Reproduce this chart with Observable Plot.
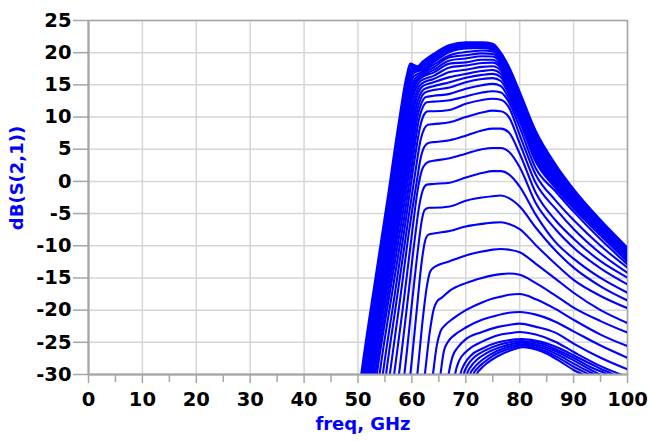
<!DOCTYPE html>
<html>
<head>
<meta charset="utf-8">
<script src="https://cdn.jsdelivr.net/npm/d3@7"></script>
<script src="https://cdn.jsdelivr.net/npm/@observablehq/plot@0.6"></script>
<style>
  html, body { margin: 0; padding: 0; background: #fff; }
  #chart { width: 649px; height: 441px; }
</style>
</head>
<body>
<div id="chart"></div>
<script>
// Axis ticks
const xTicks = [0, 10, 20, 30, 40, 50, 60, 70, 80, 90, 100];
const xMinor = [5, 15, 25, 35, 45, 55, 65, 75, 85, 95];
const yTicks = [-30, -25, -20, -15, -10, -5, 0, 5, 10, 15, 20, 25];
const xTitle = "freq, GHz";
const yTitle = "dB(S(2,1))";

// Curves: [freq GHz, dB(S21)], top (c01) to bottom (c36)
const c01 = [[50.0,-34],[50.6,-30],[53,-16.3],[55.5,-2.6],[57.5,8.8],[59.0,16.3],[59.7,18.3],[61.0,17.9],[62,18.6],[64,19.8],[67,21.2],[70,21.6],[73,21.6],[75,21.4],[76.5,20.0],[78,17.8],[80,13.9],[83,7.8],[86.6,2.7],[90,-1.2],[95,-6.0],[100,-10.3]];
const c02 = [[50.15,-34],[50.75,-30],[53.15,-16.4],[55.65,-2.8],[57.65,8.6],[59.1,16.0],[59.8,17.95],[61.0,17.75],[62,18.4],[64,19.6],[67,21.0],[70,21.45],[73,21.45],[75,21.25],[76.5,19.85],[78,17.6],[80,13.6],[83,7.5],[86.6,2.45],[90,-1.4],[95,-6.16],[100,-10.45]];
const c03 = [[50.3,-34],[50.9,-30],[53.3,-16.5],[55.8,-3.0],[57.8,8.4],[59.2,15.7],[59.9,17.6],[61.0,17.6],[62,18.2],[64,19.4],[67,20.8],[70,21.3],[73,21.3],[75,21.1],[76.5,19.7],[78,17.4],[80,13.3],[83,7.2],[86.6,2.2],[90,-1.6],[95,-6.32],[100,-10.6]];
const c04 = [[50.45,-34],[51.05,-30],[53.45,-16.6],[55.95,-3.2],[57.95,8.2],[59.3,15.4],[60.0,17.3],[61.0,17.45],[62,17.9],[64,19.1],[67,20.6],[70,21.1],[73,21.15],[75,20.9],[76.5,19.5],[78,17.1],[80,13.0],[83,6.85],[86.6,1.95],[90,-1.8],[95,-6.48],[100,-10.74]];
const c05 = [[50.6,-34],[51.2,-30],[53.6,-16.7],[56.1,-3.4],[58.1,8.0],[59.4,15.1],[60.1,17.0],[61.0,17.3],[62,17.6],[64,18.8],[67,20.35],[70,20.9],[73,20.95],[75,20.7],[76.5,19.3],[78,16.8],[80,12.7],[83,6.5],[86.6,1.7],[90,-2.0],[95,-6.64],[100,-10.9]];
const c06 = [[50.75,-34],[51.35,-30],[53.75,-16.8],[56.25,-3.6],[58.25,7.8],[59.5,14.8],[60.2,16.7],[61.0,17.1],[62,17.3],[64,18.5],[67,20.1],[70,20.65],[73,20.75],[75,20.5],[76.5,19.1],[78,16.5],[80,12.4],[83,6.2],[86.6,1.45],[90,-2.2],[95,-6.8],[100,-11.05]];
const c07 = [[50.9,-34],[51.5,-30],[53.9,-16.9],[56.4,-3.8],[58.4,7.6],[59.6,14.4],[60.3,16.3],[61.6,16.9],[64,18.1],[67,19.6],[70,20.1],[73,20.35],[75,20.2],[76.5,18.9],[78,16.2],[80,12.1],[83,5.9],[86.6,1.2],[90,-2.4],[95,-6.96],[100,-11.2]];
const c08 = [[51.05,-34],[51.65,-30],[54.05,-17.0],[56.55,-4.0],[58.55,7.3],[59.8,14.0],[60.5,15.9],[61.6,16.6],[64,17.7],[67,19.3],[70,19.6],[73,19.9],[75,19.8],[76.5,18.6],[78,15.9],[80,11.8],[83,5.55],[86.6,0.95],[90,-2.6],[95,-7.12],[100,-11.35]];
const c09 = [[51.2,-34],[51.8,-30],[54.2,-17.1],[56.7,-4.2],[58.7,7.0],[59.9,13.6],[60.6,15.5],[61.6,16.3],[64,17.3],[67,18.8],[70,19.1],[73,19.45],[75,19.4],[76.5,18.3],[78,15.6],[80,11.5],[83,5.25],[86.6,0.7],[90,-2.8],[95,-7.28],[100,-11.5]];
const c10 = [[51.4,-34],[52.0,-30],[54.4,-17.2],[56.9,-4.4],[58.9,6.7],[60.0,13.2],[60.7,15.1],[61.6,16.0],[64,16.9],[67,18.3],[70,18.5],[73,18.9],[75,18.9],[76.5,17.9],[78,15.3],[80,11.2],[83,4.9],[86.6,0.45],[90,-3.0],[95,-7.44],[100,-11.65]];
const c11 = [[51.6,-34],[52.2,-30],[54.6,-17.3],[57.1,-4.6],[59.1,6.4],[60.1,12.7],[60.8,14.6],[61.6,15.6],[64,16.4],[67,17.7],[70,18.0],[73,18.4],[75,18.45],[76.5,17.6],[78,15.0],[80,10.9],[83,4.6],[86.6,0.2],[90,-3.2],[95,-7.6],[100,-11.8]];
const c12 = [[51.8,-34],[52.4,-30],[54.8,-17.4],[57.3,-4.8],[59.3,6.1],[60.3,12.2],[61.0,14.2],[61.8,15.2],[64,15.9],[67,17.0],[70,17.35],[73,17.8],[75,17.9],[76.5,17.2],[78,14.7],[80,10.6],[83,4.3],[86.6,-0.05],[90,-3.4],[95,-7.76],[100,-11.95]];
const c13 = [[52.05,-34],[52.65,-30],[55.0,-17.5],[57.5,-5.0],[59.5,5.8],[60.5,11.8],[61.2,13.8],[62,14.8],[64,15.4],[67,16.2],[70,16.7],[73,17.15],[75,17.3],[76.5,16.7],[78,14.4],[80,10.3],[83,3.95],[86.6,-0.3],[90,-3.6],[95,-7.92],[100,-12.1]];
const c14 = [[52.3,-34],[52.9,-30],[55.2,-17.6],[57.7,-5.2],[59.7,5.5],[60.7,11.3],[61.4,13.3],[62.2,14.3],[64,14.8],[67,15.4],[70,16.1],[73,16.55],[75,16.7],[76.5,16.2],[78,14.0],[80,9.95],[83,3.65],[86.6,-0.55],[90,-3.8],[95,-8.08],[100,-12.2]];
const c15 = [[52.6,-34],[53.2,-30],[55.5,-17.7],[57.9,-5.4],[59.9,5.2],[60.9,10.8],[61.6,12.8],[62.4,13.8],[64,14.2],[67,14.6],[70,15.4],[73,15.9],[75,16.05],[76.5,15.6],[78,13.5],[80,9.6],[83,3.3],[86.6,-0.8],[90,-4.0],[95,-8.24],[100,-12.35]];
const c16 = [[52.9,-34],[53.5,-30],[55.8,-17.8],[58.2,-5.6],[60.1,4.9],[61.1,10.3],[61.8,12.2],[62.6,13.1],[64,13.3],[67,13.6],[70,14.4],[73,14.95],[75,15.15],[76.5,14.8],[78,12.9],[80,9.3],[83,3.0],[86.6,-1.0],[90,-4.2],[95,-8.4],[100,-12.5]];
const c17 = [[53.4,-34],[54.0,-30],[56.2,-18.0],[58.5,-6.0],[60.3,4.3],[61.3,9.6],[62.0,11.5],[62.8,12.3],[64,12.4],[67,12.6],[70,13.2],[73,13.8],[75,14.0],[76.5,13.8],[78,12.3],[80,8.4],[83,2.0],[86.6,-1.5],[90,-4.7],[95,-9.0],[100,-12.9]];
const c18 = [[54.0,-34],[54.6,-30],[56.7,-18.2],[58.8,-6.4],[60.5,3.4],[61.5,8.4],[62.2,10.3],[63,10.9],[64,10.9],[67,11.1],[70,12.05],[73,12.65],[75,12.85],[76.5,12.7],[78,11.5],[80,7.2],[83,1.0],[86.6,-2.9],[90,-6.0],[95,-10.0],[100,-13.4]];
const c19 = [[54.6,-34],[55.2,-30],[57.2,-18.3],[59.2,-6.6],[60.7,1.8],[61.6,6.4],[62.3,8.2],[63,8.8],[64,8.9],[67,9.2],[70,10.0],[73,10.7],[75,11.0],[76.5,10.9],[78,10.0],[80,5.9],[83,-0.3],[86.6,-4.2],[90,-7.4],[95,-11.2],[100,-14.2]];
const c20 = [[55.3,-34],[55.9,-30],[57.8,-18.4],[59.6,-7.0],[60.9,0.0],[61.7,3.9],[62.4,5.5],[63.2,6.0],[64,6.1],[67,6.4],[70,7.1],[73,7.9],[75,8.2],[76.5,8.2],[78,7.6],[80,4.3],[83,-1.8],[86.6,-6.0],[90,-8.9],[95,-12.4],[100,-14.95]];
const c21 = [[56.1,-34],[56.7,-30],[58.5,-18.5],[60.1,-7.5],[61.1,-1.2],[61.8,1.6],[62.5,2.7],[63.3,3.1],[64,3.2],[67,3.6],[70,4.3],[73,5.0],[75,5.2],[76.5,5.2],[78,4.6],[80,2.2],[83,-3.4],[86.6,-7.4],[90,-10.3],[95,-13.5],[100,-16.0]];
const c22 = [[57.0,-34],[57.6,-30],[59.2,-18.6],[60.6,-8.5],[61.4,-3.6],[62.1,-1.2],[62.8,-0.5],[64,-0.4],[67,-0.2],[70,0.6],[73,1.3],[75,1.6],[76.5,1.6],[78,1.1],[80,-0.8],[83,-5.2],[86.6,-9.4],[90,-12.0],[95,-15.0],[100,-17.3]];
const c23 = [[58.0,-34],[58.6,-30],[60.0,-19.0],[61.2,-10.0],[61.8,-6.2],[62.4,-4.4],[63.2,-4.1],[64,-4.1],[67,-3.9],[70,-3.0],[73,-2.5],[75,-2.3],[76.5,-2.2],[78,-2.6],[80,-3.9],[83,-7.2],[86.6,-10.7],[90,-13.4],[95,-16.3],[100,-18.5]];
const c24 = [[59.1,-34],[59.7,-30],[60.9,-20.0],[61.8,-12.6],[62.4,-9.4],[63.0,-8.3],[64,-8.1],[67,-7.7],[70,-7.0],[73,-6.6],[75,-6.4],[76.5,-6.35],[78,-6.6],[80,-7.4],[83,-9.9],[86.6,-12.8],[90,-15.3],[95,-17.8],[100,-19.7]];
const c25 = [[60.4,-34],[61.0,-30],[62.0,-21.5],[62.8,-16.2],[63.4,-14.0],[64.2,-13.3],[67,-12.4],[70,-11.5],[73,-10.9],[75,-10.6],[76.5,-10.5],[78,-10.6],[80,-11.0],[83,-12.8],[86.6,-15.1],[90,-17.3],[95,-20.0],[100,-22.0]];
const c26 = [[61.8,-34],[62.4,-30],[63.3,-23.5],[64.0,-20.0],[64.7,-18.6],[65.5,-18.1],[67,-17.0],[70,-15.8],[73,-15.0],[75,-14.6],[76.5,-14.4],[78,-14.3],[80,-14.5],[83,-15.8],[86.6,-17.7],[90,-19.6],[95,-21.7],[100,-23.5]];
const c27 = [[63.3,-34],[63.9,-30],[64.6,-25.6],[65.3,-23.3],[66.2,-22.3],[67.5,-21.4],[70,-20.0],[73,-18.8],[75,-18.2],[76.5,-17.9],[78,-17.6],[80,-17.5],[83,-18.3],[86.6,-19.8],[90,-21.5],[95,-23.8],[100,-25.6]];
const c28 = [[64.7,-34],[65.3,-30],[65.9,-26.5],[66.7,-24.9],[68,-23.8],[70,-22.7],[73,-21.5],[75,-21.0],[78,-20.4],[80,-20.3],[83,-20.7],[86.6,-21.8],[90,-23.3],[95,-25.5],[100,-27.4]];
const c29 = [[66.2,-34],[66.8,-30],[67.5,-27.3],[68.5,-25.8],[70,-24.5],[73,-23.4],[76,-22.6],[78,-22.3],[80,-22.1],[83,-22.6],[86.6,-23.5],[90,-25.2],[95,-27.4],[100,-29.2]];
const c30 = [[67.4,-34],[68.0,-30],[68.8,-27.8],[70,-26.5],[71,-25.8],[73,-24.9],[76,-23.9],[78,-23.6],[80,-23.4],[83,-23.8],[86.6,-24.9],[90,-26.5],[95,-28.7],[100,-30.4]];
const c31 = [[68.4,-34],[69.0,-30],[69.8,-28.3],[71,-27.0],[73,-26.0],[76,-25.0],[80.5,-24.5],[84,-24.9],[87,-25.8],[90,-27.0],[93,-28.3],[95,-29.1],[97.7,-30.2],[99,-31]];
const c32 = [[69.0,-34],[69.6,-30],[70.4,-28.5],[71.6,-27.3],[73.5,-26.3],[76.5,-25.3],[80.5,-24.8],[84,-25.2],[87,-26.2],[90,-27.4],[93,-28.8],[96.7,-30.2],[98,-31]];
const c33 = [[69.6,-34],[70.2,-30],[71.0,-28.7],[72.2,-27.6],[74,-26.6],[77,-25.6],[80.5,-25.05],[84,-25.5],[87,-26.5],[90,-27.8],[93,-29.2],[95.6,-30.3],[97,-31]];
const c34 = [[70.2,-34],[70.8,-30],[71.6,-28.9],[72.8,-27.9],[74.5,-26.9],[77.5,-25.8],[80.5,-25.3],[84,-25.8],[87,-26.9],[90,-28.3],[92.5,-29.4],[94.6,-30.3],[96,-31]];
const c35 = [[70.8,-34],[71.4,-30],[72.2,-29.0],[73.4,-28.1],[75,-27.1],[78,-26.0],[80.5,-25.5],[84,-26.1],[87,-27.3],[90,-28.8],[93.6,-30.3],[95,-31]];
const c36 = [[71.4,-34],[72.0,-30],[72.8,-29.1],[74,-28.2],[75.8,-27.2],[78.5,-26.2],[80.5,-25.75],[84,-26.4],[87,-27.7],[90,-29.3],[92.6,-30.3],[94,-31]];

const curves = [c01,c02,c03,c04,c05,c06,c07,c08,c09,c10,c11,c12,c13,c14,c15,c16,c17,c18,
                c19,c20,c21,c22,c23,c24,c25,c26,c27,c28,c29,c30,c31,c32,c33,c34,c35,c36];
const rows = curves.flatMap((pts, i) => pts.map(([f, db]) => ({id: i, f, db})));

const FONT = "'DejaVu Sans', Verdana, sans-serif";
const axisGray = "#a6a6a6";
const gridGray = "#d6d6d6";
const blue = "#0000ff";
const plain = d => String(d); // hyphen-minus as in the reference

const chart = Plot.plot({
  width: 649,
  height: 441,
  marginLeft: 88,
  marginRight: 22,
  marginTop: 20,
  marginBottom: 67,
  style: {fontFamily: FONT, background: "#fff", overflow: "visible"},
  x: {domain: [0, 100]},
  y: {domain: [-30, 25]},
  marks: [
    Plot.gridX(xTicks, {stroke: gridGray, strokeOpacity: 1, strokeWidth: 1.5}),
    Plot.gridY(yTicks, {stroke: gridGray, strokeOpacity: 1, strokeWidth: 1.5}),
    Plot.frame({stroke: axisGray, strokeWidth: 1.5}),
    Plot.line(rows, {x: "f", y: "db", z: "id", stroke: blue, strokeWidth: 2.1, curve: "monotone-x", clip: true}),
    Plot.ruleY([-30], {stroke: axisGray, strokeWidth: 2}),
    Plot.ruleX([0], {stroke: axisGray, strokeWidth: 2}),
    Plot.axisX(xMinor, {tickSize: 8, tickFormat: () => "", stroke: axisGray, strokeWidth: 1.5, label: null}),
    Plot.axisX(xTicks, {tickSize: 9, tickPadding: 9, tickFormat: plain, stroke: axisGray, strokeWidth: 1.5, fill: "#000",
      fontSize: 19.5, fontWeight: "bold", label: null}),
    Plot.axisY(yTicks, {tickSize: 15, tickPadding: 2, tickFormat: plain, stroke: axisGray, strokeWidth: 1.5, fill: "#000",
      fontSize: 19.5, fontWeight: "bold", label: null})
  ]
});

const svg = d3.select(chart);
svg.append("text")
  .attr("x", 363).attr("y", 425)
  .attr("text-anchor", "middle").attr("dominant-baseline", "middle")
  .attr("fill", blue).attr("font-family", FONT).attr("font-weight", "bold").attr("font-size", 18)
  .text(xTitle);
svg.append("text")
  .attr("transform", "translate(18,178) rotate(-90)")
  .attr("text-anchor", "middle").attr("dominant-baseline", "middle")
  .attr("fill", blue).attr("font-family", FONT).attr("font-weight", "bold").attr("font-size", 18)
  .text(yTitle);

document.getElementById("chart").appendChild(chart);
</script>
</body>
</html>
